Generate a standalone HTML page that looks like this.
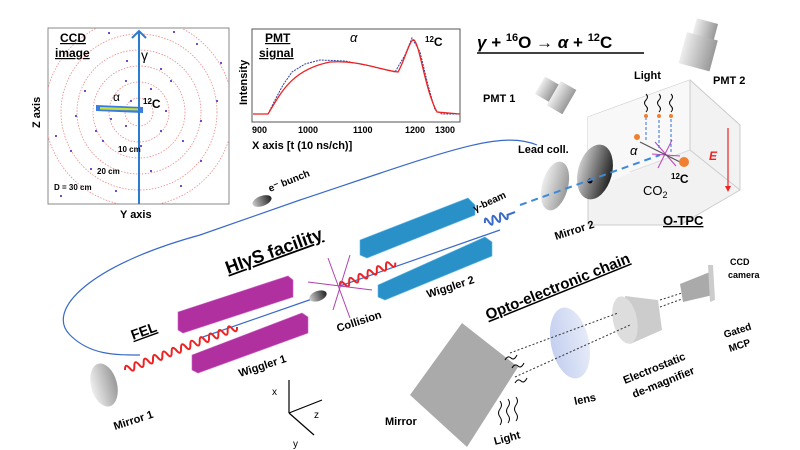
<!DOCTYPE html>
<html><head><meta charset="utf-8"><style>
html,body{margin:0;padding:0;background:#fff;}
svg{display:block;font-family:"Liberation Sans",Arial,sans-serif;}
.b{font-weight:bold;}
</style></head><body>
<svg width="800" height="450" viewBox="0 0 800 450">
<defs>
<linearGradient id="gr" x1="0" x2="1"><stop offset="0" stop-color="#eee"/><stop offset="1" stop-color="#999"/></linearGradient>
<linearGradient id="gb" x1="0" x2="1"><stop offset="0" stop-color="#ccc"/><stop offset="1" stop-color="#222"/></linearGradient>
<linearGradient id="lens" x1="0" x2="1"><stop offset="0" stop-color="#c4d0f0"/><stop offset="1" stop-color="#e6ebf8"/></linearGradient>
<clipPath id="ccd"><rect x="48" y="28" width="181" height="176"/></clipPath>
</defs>

<!-- CCD image -->
<rect x="48" y="28" width="181" height="176" fill="#fff" stroke="#888"/>
<g fill="none" stroke="#e88" stroke-dasharray="1.5,1.5" stroke-width="0.8" clip-path="url(#ccd)">
<circle cx="139" cy="112" r="14"/><circle cx="139" cy="112" r="30"/><circle cx="139" cy="112" r="46"/><circle cx="139" cy="112" r="62"/><circle cx="139" cy="112" r="78"/><circle cx="139" cy="112" r="94"/>
</g>
<g fill="#6a4fd0">
<rect x="108" y="32" width="2" height="2"/><rect x="173" y="31" width="2" height="2"/><rect x="196" y="43" width="2" height="2"/><rect x="220" y="62" width="2" height="2"/><rect x="126" y="60" width="2" height="2"/><rect x="160" y="68" width="2" height="2"/><rect x="170" y="80" width="2" height="2"/><rect x="84" y="90" width="2" height="2"/><rect x="150" y="88" width="2" height="2"/><rect x="110" y="118" width="2" height="2"/><rect x="125" y="125" width="2" height="2"/><rect x="95" y="130" width="2" height="2"/><rect x="160" y="130" width="2" height="2"/><rect x="182" y="140" width="2" height="2"/><rect x="70" y="150" width="2" height="2"/><rect x="90" y="168" width="2" height="2"/><rect x="150" y="170" width="2" height="2"/><rect x="200" y="160" width="2" height="2"/><rect x="115" y="190" width="2" height="2"/><rect x="60" y="195" width="2" height="2"/><rect x="180" y="185" width="2" height="2"/><rect x="216" y="100" width="2" height="2"/><rect x="55" y="135" width="2" height="2"/><rect x="140" y="145" width="2" height="2"/><rect x="102" y="140" width="2" height="2"/><rect x="130" y="100" width="2" height="2"/><rect x="165" y="110" width="2" height="2"/><rect x="200" y="120" width="2" height="2"/><rect x="75" y="115" width="2" height="2"/><rect x="125" y="80" width="2" height="2"/>
</g>
<path d="M96 105 L143 107 L143 113 L96 111 Z" fill="#3a7be0"/>
<path d="M100 107 L140 108.5 L140 110.5 L100 109.5 Z" fill="#c8e030"/>
<line x1="139" y1="204" x2="139" y2="32" stroke="#2b7bd0" stroke-width="2"/>
<polyline points="132,38 139,31 146,38" fill="none" stroke="#2b7bd0" stroke-width="2"/>
<text x="60" y="42" class="b" font-size="12" text-decoration="underline">CCD</text>
<text x="55" y="57" class="b" font-size="12" text-decoration="underline">image</text>
<text x="141" y="60" font-size="14">γ</text>
<text x="113" y="101" font-size="12">α</text>
<text x="143" y="108" class="b" font-size="12"><tspan font-size="8" dy="-4">12</tspan><tspan dy="4">C</tspan></text>
<text x="118" y="152" class="b" font-size="8">10 cm</text>
<text x="97" y="174" class="b" font-size="8">20 cm</text>
<text x="54" y="190" class="b" font-size="8">D = 30 cm</text>
<text x="120" y="218" class="b" font-size="11">Y axis</text>
<text x="40" y="128" class="b" font-size="11" transform="rotate(-90 40 128)">Z axis</text>

<!-- PMT signal -->
<rect x="252" y="29" width="208" height="93" fill="#fff" stroke="#555"/>
<path d="M253 114 L268 114 L275 100 L283 85 L292 72 L305 64 L320 60 L345 61 L370 66 L395 72 L405 55 L412 38 L420 52 L428 85 L435 110 L442 114 L460 114" fill="none" stroke="#3040a0" stroke-width="1" stroke-dasharray="2,1"/>
<path d="M253 114 L268 114 C280 95 290 70 330 62 C360 60 380 70 398 72 C405 60 410 38 414 40 C420 45 425 90 437 112 L460 114" fill="none" stroke="#e22" stroke-width="1.3"/>
<text x="265" y="42" class="b" font-size="12" text-decoration="underline">PMT</text>
<text x="259" y="57" class="b" font-size="12" text-decoration="underline">signal</text>
<text x="350" y="42" font-size="13" font-style="italic">α</text>
<text x="425" y="46" class="b" font-size="12"><tspan font-size="8" dy="-4">12</tspan><tspan dy="4">C</tspan></text>
<text x="247" y="105" class="b" font-size="11" transform="rotate(-90 247 105)">Intensity</text>
<g class="b" font-size="9"><text x="252" y="133">900</text><text x="298" y="133">1000</text><text x="353" y="133">1100</text><text x="405" y="133">1200</text><text x="435" y="133">1300</text></g>
<text x="252" y="149" class="b" font-size="11">X axis [t (10 ns/ch)]</text>

<!-- equation -->
<text x="477" y="48" class="b" font-size="17"><tspan font-style="italic">γ</tspan> + <tspan font-size="11" dy="-7">16</tspan><tspan dy="7">O → </tspan><tspan font-style="italic">α</tspan> + <tspan font-size="11" dy="-7">12</tspan><tspan dy="7">C</tspan></text>
<line x1="477" y1="53" x2="644" y2="53" stroke="#000" stroke-width="1.5"/>

<!-- O-TPC box -->
<polygon points="588,117 690,80 740,125 740,190 680,225 588,225" fill="#f2f2f2" stroke="#ccc"/>
<polygon points="588,117 690,80 690,150 588,190" fill="#f8f8f8"/>
<line x1="690" y1="80" x2="690" y2="150" stroke="#ccc"/><line x1="690" y1="150" x2="740" y2="190" stroke="#ccc"/><line x1="690" y1="150" x2="630" y2="172" stroke="#ddd"/>
<line x1="728" y1="128" x2="728" y2="188" stroke="#e22" stroke-width="1.2"/>
<polygon points="725,186 731,186 728,192" fill="#e22"/>
<text x="709" y="160" font-size="12" font-style="italic" font-weight="bold" fill="#e22">E</text>
<text x="643" y="195" font-size="13">CO<tspan font-size="9" dy="3">2</tspan></text>
<text x="671" y="183" class="b" font-size="12"><tspan font-size="8" dy="-4">12</tspan><tspan dy="4">C</tspan></text>
<text x="630" y="155" font-size="13" font-style="italic">α</text>
<text x="663" y="225" class="b" font-size="13" text-decoration="underline">O-TPC</text>
<g stroke="#c040c0" stroke-width="1"><line x1="655" y1="142" x2="676" y2="166"/><line x1="672" y1="140" x2="658" y2="168"/><line x1="652" y1="154" x2="680" y2="156"/></g>
<line x1="640" y1="142" x2="680" y2="162" stroke="#555" stroke-width="1.2"/>
<circle cx="637" cy="137" r="3" fill="#f08030"/><circle cx="684" cy="162" r="5" fill="#f08030"/>
<g stroke="#3070d0" stroke-dasharray="3,2"><line x1="646" y1="140" x2="646" y2="118"/><line x1="659" y1="148" x2="659" y2="118"/><line x1="671" y1="152" x2="671" y2="118"/></g>
<g fill="#f08030"><circle cx="646" cy="116" r="2"/><circle cx="659" cy="116" r="2"/><circle cx="671" cy="116" r="2"/></g>
<g fill="none" stroke="#000" stroke-width="1"><path d="M646 112 q3 -3 0 -6 q-3 -3 0 -6 q3 -3 0 -6"/><path d="M659 112 q3 -3 0 -6 q-3 -3 0 -6 q3 -3 0 -6"/><path d="M671 112 q3 -3 0 -6 q-3 -3 0 -6 q3 -3 0 -6"/></g>
<text x="634" y="79" class="b" font-size="11">Light</text>
<!-- PMTs -->
<g transform="rotate(30 555 95)"><rect x="537" y="84" width="16" height="20" fill="url(#gr)"/><rect x="553" y="80" width="18" height="28" fill="url(#gr)"/></g>
<text x="483" y="102" class="b" font-size="11">PMT 1</text>
<g transform="rotate(15 700 45)"><rect x="690" y="20" width="22" height="18" fill="url(#gr)"/><rect x="684" y="36" width="32" height="32" fill="url(#gr)"/></g>
<text x="713" y="84" class="b" font-size="11">PMT 2</text>
<!-- mirror 2, lead coll -->
<ellipse cx="555" cy="186" rx="13" ry="25" fill="url(#gr)" transform="rotate(15 555 186)"/>
<ellipse cx="595" cy="172" rx="17" ry="28" fill="url(#gb)" transform="rotate(15 595 172)"/>
<circle cx="590" cy="181" r="2.5" fill="#000"/>
<text x="518" y="153" class="b" font-size="11">Lead coll.</text>
<text x="556" y="240" class="b" font-size="11" transform="rotate(-18 556 240)">Mirror 2</text>
<line x1="520" y1="205" x2="660" y2="155" stroke="#3a8ad8" stroke-width="2" stroke-dasharray="7,5"/>

<!-- beam loop -->
<path d="M537 145 C500 130 450 150 300 200 L200 235 C90 265 45 310 70 335 C90 355 115 355 140 355" fill="none" stroke="#3a6ac8" stroke-width="1.2"/>
<line x1="200" y1="338" x2="315" y2="298" stroke="#3a6ac8" stroke-width="1.2"/>
<line x1="340" y1="286" x2="500" y2="230" stroke="#3a6ac8" stroke-width="1.2"/>
<ellipse cx="262" cy="201" rx="10" ry="5" fill="url(#gb)" transform="rotate(-20 262 201)"/>
<text x="270" y="192" class="b" font-size="10" transform="rotate(-22 270 192)">e⁻ bunch</text>
<ellipse cx="318" cy="296" rx="9" ry="5" fill="url(#gb)" transform="rotate(-20 318 296)"/>
<text x="228" y="274" class="b" font-size="18" transform="rotate(-20 228 274)" text-decoration="underline">HIγS facility</text>

<!-- wigglers -->
<g stroke="#d060c8" stroke-width="0.6">
<polygon points="178,312 288,276 293,280 293,297 183,333 178,330" fill="#b030a0"/>
<polygon points="192,355 302,313 308,317 308,333 198,373 192,370" fill="#b030a0"/>
</g>
<g stroke="#60b8e8" stroke-width="0.6">
<polygon points="360,240 468,198 475,205 475,215 367,258 360,255" fill="#2a90c8"/>
<polygon points="378,285 485,237 492,242 492,256 385,300 378,297" fill="#2a90c8"/>
</g>
<text x="240" y="377" class="b" font-size="11" transform="rotate(-18 240 377)">Wiggler 1</text>
<text x="428" y="298" class="b" font-size="11" transform="rotate(-18 428 298)">Wiggler 2</text>
<!-- FEL red -->
<path d="M0 0 q2.5 -7 5 0 q2.5 7 5 0 q2.5 -7 5 0 q2.5 7 5 0 q2.5 -7 5 0 q2.5 7 5 0 q2.5 -7 5 0 q2.5 7 5 0 q2.5 -7 5 0 q2.5 7 5 0 q2.5 -7 5 0 q2.5 7 5 0 q2.5 -7 5 0 q2.5 7 5 0 q2.5 -7 5 0 q2.5 7 5 0 q2.5 -7 5 0 q2.5 7 5 0 q2.5 -7 5 0 q2.5 7 5 0 q2.5 -7 5 0 q2.5 7 5 0 q2.5 -7 5 0 q2.5 7 5 0" fill="none" stroke="#e22" stroke-width="2" transform="translate(125 370) rotate(-21)"/>
<path d="M0 0 q2.5 -7 5 0 q2.5 7 5 0 q2.5 -7 5 0 q2.5 7 5 0 q2.5 -7 5 0 q2.5 7 5 0 q2.5 -7 5 0 q2.5 7 5 0 q2.5 -7 5 0 q2.5 7 5 0 q2.5 -7 5 0 q2.5 7 5 0" fill="none" stroke="#e22" stroke-width="2" transform="translate(340 286) rotate(-23)"/>
<text x="133" y="340" class="b" font-size="14" transform="rotate(-20 133 340)" text-decoration="underline">FEL</text>
<g stroke="#b040b0"><line x1="328" y1="258" x2="350" y2="318"/><line x1="350" y1="255" x2="333" y2="310"/><line x1="308" y1="282" x2="372" y2="290"/></g>
<text x="338" y="332" class="b" font-size="11" transform="rotate(-18 338 332)">Collision</text>
<path d="M0 0 q2 -8 4 0 q2 8 4 0 q2 -8 4 0 q2 8 4 0 q2 -8 4 0 q2 8 4 0 l8 0" fill="none" stroke="#3a6ac8" stroke-width="2" transform="translate(485 223) rotate(-20)"/>
<text x="475" y="212" class="b" font-size="10" transform="rotate(-25 475 212)">γ-beam</text>
<ellipse cx="104" cy="385" rx="13" ry="22" fill="url(#gr)" transform="rotate(-15 104 385)"/>
<text x="115" y="430" class="b" font-size="11" transform="rotate(-18 115 430)">Mirror 1</text>
<!-- axes -->
<g stroke="#000" stroke-width="1.2" fill="none"><line x1="289" y1="413" x2="289" y2="380"/><line x1="289" y1="413" x2="322" y2="400"/><line x1="289" y1="413" x2="314" y2="435"/></g>
<text x="272" y="395" font-size="10">x</text><text x="314" y="418" font-size="10">z</text><text x="293" y="447" font-size="10">y</text>

<!-- opto-electronic -->
<polygon points="462,323 518,367 467,447 410,395" fill="#aaa"/>
<text x="385" y="425" class="b" font-size="11">Mirror</text>
<ellipse cx="570" cy="343" rx="19" ry="36" fill="url(#lens)" transform="rotate(-12 570 343)"/>
<text x="575" y="405" class="b" font-size="11" transform="rotate(-12 575 405)">lens</text>
<polygon points="625,296 658,300 662,330 630,344" fill="#ccc"/>
<ellipse cx="625" cy="320" rx="12" ry="24" fill="#ddd" transform="rotate(-12 625 320)"/>
<text x="625" y="384" class="b" font-size="11" transform="rotate(-22 625 384)">Electrostatic</text>
<text x="634" y="398" class="b" font-size="11" transform="rotate(-22 634 398)">de-magnifier</text>
<polygon points="680,284 710,272 713,295 683,302" fill="#aaa"/>
<polygon points="708,265 713,265 715,300 710,302" fill="#ccc"/>
<text x="730" y="265" class="b" font-size="9">CCD</text><text x="728" y="278" class="b" font-size="9">camera</text>
<text x="725" y="338" class="b" font-size="10" transform="rotate(-18 725 338)">Gated</text>
<text x="730" y="352" class="b" font-size="10" transform="rotate(-18 730 352)">MCP</text>
<g stroke="#333" stroke-dasharray="2,2"><line x1="510" y1="353" x2="618" y2="313"/><line x1="515" y1="377" x2="630" y2="325"/><line x1="660" y1="300" x2="682" y2="293"/><line x1="660" y1="307" x2="682" y2="299"/></g>
<text x="488" y="320" class="b" font-size="15" transform="rotate(-22 488 320)" text-decoration="underline">Opto-electronic chain</text>
<g fill="none" stroke="#000"><path d="M500 425 q3 -4 0 -8 q-3 -4 0 -8 q3 -4 0 -8"/><path d="M508 423 q3 -4 0 -8 q-3 -4 0 -8 q3 -4 0 -8"/><path d="M516 421 q3 -4 0 -8 q-3 -4 0 -8 q3 -4 0 -8"/>
<path d="M505 360 q3 -5 6 -2 q3 3 6 -3"/><path d="M512 368 q3 -5 6 -2 q3 3 6 -3"/><path d="M515 383 q3 -5 6 -2 q3 3 6 -3"/></g>
<text x="495" y="445" class="b" font-size="11" transform="rotate(-15 495 445)">Light</text>
</svg>
</body></html>
